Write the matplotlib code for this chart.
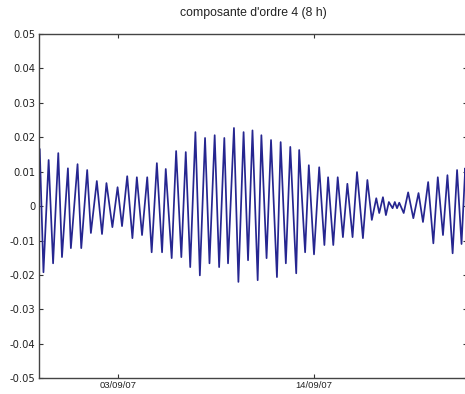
import matplotlib
matplotlib.use('Agg')
import matplotlib.pyplot as plt
import pandas as pd

# extremums : heures depuis le 03/09/07 00:00, valeur
heures = [-106, -101, -94, -88, -81, -76, -68, -64, -55, -50,
          -42, -37, -29, -22, -16, -8, -1, 5, 12, 19,
          25, 32, 39, 45, 52, 59, 64, 72, 78, 85,
          91, 97, 104, 110, 117, 123, 130, 136, 143, 148,
          156, 162, 169, 175, 181, 188, 193, 200, 206, 214,
          219, 226, 232, 240, 244, 252, 257, 264, 271, 278,
          283, 290, 296, 303, 309, 316, 322, 330, 336, 342,
          348, 352, 357, 361, 365, 370, 373, 376, 379, 385,
          391, 398, 405, 411, 418, 425, 431, 438, 444, 451,
          457, 463, 468, 475]
valeurs = [0.0165, -0.0192, 0.0134, -0.0166, 0.0154, -0.0148, 0.0110, -0.0122, 0.0122, -0.0122,
           0.0105, -0.0078, 0.0073, -0.0081, 0.0067, -0.0061, 0.0055, -0.0058, 0.0087, -0.0093,
           0.0084, -0.0084, 0.0084, -0.0134, 0.0125, -0.0134, 0.0108, -0.0151, 0.0160, -0.0148,
           0.0157, -0.0177, 0.0215, -0.0201, 0.0198, -0.0166, 0.0206, -0.0177, 0.0198, -0.0166,
           0.0227, -0.0220, 0.0215, -0.0157, 0.0220, -0.0215, 0.0206, -0.0151, 0.0192, -0.0206,
           0.0186, -0.0166, 0.0172, -0.0195, 0.0163, -0.0134, 0.0119, -0.0140, 0.0113, -0.0113,
           0.0084, -0.0113, 0.0084, -0.0090, 0.0065, -0.0090, 0.0099, -0.0093, 0.0076, -0.0040,
           0.0023, -0.0020, 0.0026, -0.0026, 0.0012, -0.0006, 0.0012, -0.0006, 0.0010, -0.0020,
           0.0040, -0.0035, 0.0038, -0.0046, 0.0070, -0.0108, 0.0084, -0.0084, 0.0090, -0.0137,
           0.0105, -0.0110, 0.0110, -0.0110]

xticks_lab = ['03/09/07', '14/09/07']
yticks_val = [0.05, 0.04, 0.03, 0.02, 0.01, 0, -0.01, -0.02, -0.03, -0.04, -0.05]
yticks_lab = ['0.05', '0.04', '0.03', '0.02', '0.01', '0', '-0.01', '-0.02', '-0.03', '-0.04', '-0.05']

t0 = pd.Timestamp('2007-09-03')
t = [t0 + pd.Timedelta(hours=h) for h in heures]

fig = plt.figure(figsize=(4.65, 3.94), dpi=100)
ax = fig.add_axes([39.3 / 465, 1 - 378.3 / 394, (467 - 39.3) / 465, (378.3 - 34) / 394])

ax.plot(t, valeurs, '-', color='#262690', lw=1.25)

ax.set_xlim(t0 - pd.Timedelta(hours=106.6), t0 + pd.Timedelta(hours=470.4))
ax.set_ylim(-0.05, 0.05)

xt = [pd.to_datetime(s, format='%d/%m/%y') for s in xticks_lab]
ax.set_xticks(xt)
ax.set_xticklabels(xticks_lab, fontsize=6.8, family='Liberation Sans')
ax.set_yticks(yticks_val)
ax.set_yticklabels(yticks_lab, fontsize=7.2, family='DejaVu Sans')

ax.tick_params(direction='in', length=3, width=0.8, top=True, right=True,
               color='#333333', labelcolor='#222222', pad=3)
ax.tick_params(axis='x', pad=2)
for s in ax.spines.values():
    s.set_color('#444444')
    s.set_linewidth(1.0)

ax.set_title("composante d'ordre 4 (8 h)", fontsize=8.8, family='Liberation Sans',
             color='#222222', pad=13)

fig.savefig('out.png', dpi=100)
